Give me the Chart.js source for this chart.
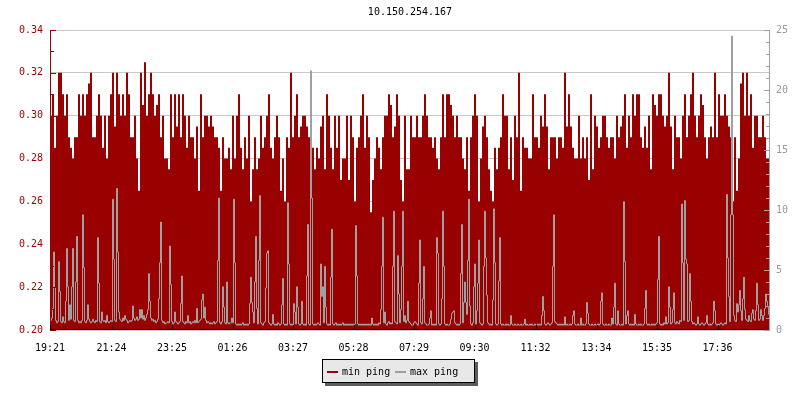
<!DOCTYPE html>
<html>
<head>
<meta charset="utf-8">
<title>10.150.254.167</title>
<script src="https://cdn.jsdelivr.net/npm/chart.js@4.4.1/dist/chart.umd.min.js"></script>
<style>
    body { margin: 0; background: #fff; }
    #wrap { position: relative; width: 800px; height: 400px; }
    #legend {
        position: absolute; left: 322px; top: 359px; width: 151px; height: 22px;
        background: #e8e8e8; border: 1px solid #000; box-shadow: 3px 3px 0 #5c5c5c;
        font: 10px "DejaVu Sans Mono", monospace; color: #000;
    }
    #legend .mark { position: absolute; top: 11px; width: 11px; height: 2px; }
    #legend .txt { position: absolute; top: 0; line-height: 24px; white-space: nowrap; }
</style>
</head>
<body>
<div id="wrap">
    <canvas id="pingChart" width="800" height="400"></canvas>
    <div id="legend">
        <span class="mark" style="left:4px;background:#990000"></span><span class="txt" style="left:19px">min ping</span>
        <span class="mark" style="left:72px;background:#a0a0a0"></span><span class="txt" style="left:87px">max ping</span>
    </div>
</div>
<script>
const chartTitle = "10.150.254.167";

// x axis: minutes since 19:21
const tickLabels = ["19:21", "21:24", "23:25", "01:26", "03:27", "05:28", "07:29", "09:30", "11:32", "13:34", "15:35", "17:36"];
const tickMinutes = [0, 123, 244, 365, 486, 607, 728, 849, 971, 1093, 1214, 1335];

// left axis ticks (ms)
const leftTicks = [0.20, 0.22, 0.24, 0.26, 0.28, 0.30, 0.32, 0.34];
const rightTicks = [0, 5, 10, 15, 20, 25];

// min ping, in 1/100 ms, one sample every 4 minutes
const minStep = 4;
const minPing = [
    30,31,28.5,30,32,32,31,30,31,29, 28.5,28,29,29,31,30,31,30,31,31.5,
    32,29,29,30,31,30,28.5,30,28,30, 31,32,29.5,32,31,30,31,30,32,31,
    29,29,30,28,26.5,32,30.5,32.5,30,31, 32,31,30,30.5,31,29,30,28,28,27.5,
    31,29,31,29.5,31,29,31,30,28.5,30, 29,29,28,29.5,26.5,31,29,30,30,29.5,
    30,29.5,29,29,28.5,26.5,29,28,28,28.5, 27.5,30,28,30,31,28.5,27.5,29,28,30,
    26,27.5,29,27.5,28,30,28.5,29,30,31, 28.5,28,29,30,29,26.5,28,26,29,28.5,
    32,29,30,31,29,29.5,30,30,29.5,29, 28.5,28.5,27.5,28.5,28,29.5,30,27.5,31,30,
    28.5,27.5,30,28.5,30,27,28,28,30,27, 30,29,26,28.5,29,30,31,28.5,30,29,
    25.5,27,28,29,28.5,27.5,29,30,30,31, 30.5,29,29.5,31,30,27,26,30,27.5,27.5,
    30,29,29,30,29,29,30,31,30,29, 29,28.5,29,28,27.5,29,31,29,31,31,
    30.5,30,29,30,29,29,28,27.5,29,26.5, 29,30,31,30,26,28,29.5,30,29,27.5,
    26.5,26,28.5,27.5,28.5,29,31,30,30,27.5, 29,27,30,29,32,26.5,29,28.5,28.5,28,
    28,31,29,29,28.5,30,29.5,31,29.5,27.5, 29,29,29,28,29,29,28.5,32,29.5,31,
    29.5,28.5,28,28,30,28,29,28,29,27, 31,27.5,30,29.5,28.5,29,30,30,29,28.5,
    29,29,28,30,29,29.5,30,31,28.5,30, 29,31,30,31,31,29,28.5,29.5,28.5,30,
    27.5,31,30.5,30,31,31,30,29.5,30,32, 29.5,27.5,30,29,29,28,30,31,29,30,
    31,32,30,29,30,31,30.5,29,28,29, 29.5,29,32,29,31,30,30,31,30,29.5,
    29,26,29,26.5,28,31.5,32,30,32,30, 31,28.5,30,30,29,29,30,29,28,28
];

// max ping, in ms, one sample every 2 minutes
const maxStep = 2;
const maxPing = [
    0.8,1.0,1.8,6.5,3.5,0.8,0.6,0.7,5.7,3.2, 0.7,0.6,1.1,0.7,0.6,2.4,6.8,3.6,0.8,2.1,
    0.9,3.6,6.8,0.8,0.7,4.0,7.8,0.8,0.6,0.7, 0.6,0.8,9.6,5.2,0.7,0.6,0.8,2.1,0.9,0.7,
    0.6,0.7,0.9,0.7,0.6,0.8,0.7,7.7,3.9,0.7, 0.6,1.5,0.8,0.7,0.8,0.6,1.2,0.7,0.6,0.7,
    0.8,0.7,10.9,5.9,0.8,0.7,11.8,6.5,1.5,0.9, 0.8,0.7,1.0,0.8,1.2,0.9,0.8,0.6,0.7,0.8,
    0.7,0.8,2.0,1.0,0.8,0.9,1.1,0.8,0.9,1.7, 1.0,1.7,0.9,1.2,0.8,1.0,1.3,1.7,4.7,2.4,
    1.0,0.8,0.9,0.7,0.8,0.6,0.7,0.9,2.6,5.6, 9.0,0.8,0.6,0.7,0.5,0.6,0.6,0.7,0.6,7.0,
    3.8,0.7,0.5,0.6,1.5,0.7,0.6,0.5,0.6,0.7, 2.2,4.5,0.7,0.6,0.5,0.7,0.6,1.2,0.6,0.7,
    0.5,0.6,0.7,0.6,0.8,0.6,1.8,0.6,0.7,0.8, 0.9,2.5,3.0,1.0,1.9,0.8,0.6,0.7,0.6,0.5,
    0.6,0.5,0.6,0.7,0.5,0.6,0.7,5.8,11.0,0.6, 0.5,0.7,3.6,1.9,0.6,0.5,4.0,0.6,0.5,0.6,
    0.6,1.0,0.6,10.9,5.6,0.5,0.4,0.5,0.4,0.5, 0.4,0.5,0.6,0.4,0.5,0.4,0.5,0.4,0.5,2.2,
    4.4,2.3,1.5,0.6,4.0,7.8,1.8,0.5,5.8,11.2, 0.6,0.5,0.4,0.6,0.7,3.5,6.4,6.6,0.6,0.5,
    0.4,0.5,1.3,0.5,0.4,0.5,0.4,0.6,0.5,0.4, 0.5,2.1,4.3,0.5,0.4,0.5,0.4,10.6,5.5,0.5,
    0.4,0.5,0.4,2.2,1.5,0.5,3.6,1.9,0.5,0.4, 0.5,2.4,0.5,0.4,0.5,0.4,4.5,8.8,0.5,0.4,
    21.6,11.0,0.5,0.4,0.5,0.4,0.5,0.6,0.5,0.4, 5.5,2.8,3.6,0.6,5.3,1.9,0.5,0.4,0.5,0.4,
    4.4,8.4,0.5,0.4,0.5,0.6,0.4,0.5,0.4,0.5, 0.4,0.5,0.6,0.4,0.5,0.4,0.5,0.4,0.5,0.4,
    0.5,0.4,0.5,0.4,0.5,8.7,4.5,0.5,0.4,0.5, 0.4,0.5,0.4,0.5,0.4,0.5,0.4,0.5,0.4,0.5,
    0.4,1.0,0.5,0.4,0.5,0.4,0.5,0.4,0.6,0.5, 1.7,5.3,9.4,0.6,1.5,0.5,0.4,0.6,0.7,0.5,
    0.6,0.5,5.3,9.9,0.7,0.6,0.5,6.2,3.0,0.6, 1.7,5.3,9.9,0.7,1.2,0.6,0.8,2.4,0.7,0.6,
    0.5,0.4,0.4,0.6,0.7,0.6,0.5,0.4,3.9,7.5, 0.6,0.5,2.6,5.3,0.6,0.5,0.4,0.4,0.5,1.0,
    1.6,0.4,0.5,0.4,0.5,0.4,7.7,6.4,0.5,0.4, 0.5,2.6,9.9,5.3,0.5,0.4,0.5,0.4,0.4,0.5,
    0.9,1.4,1.5,1.6,0.6,0.5,0.4,0.5,0.4,0.5, 4.7,8.8,0.6,2.3,4.0,2.3,1.3,5.8,10.9,2.0,
    0.5,0.4,0.6,3.6,5.5,0.5,1.6,3.9,7.5,0.6, 0.5,0.4,0.5,5.3,9.9,6.0,2.9,0.6,0.5,0.4,
    0.5,0.4,2.5,10.1,5.6,0.5,0.4,0.5,4.1,7.7, 0.5,0.4,0.5,0.4,0.4,0.5,0.4,0.5,0.4,0.4,
    1.2,0.5,0.4,0.4,0.5,0.4,0.4,0.5,0.4,0.4, 0.5,0.4,0.4,0.5,0.9,0.4,0.5,0.4,0.4,0.5,
    0.4,0.5,0.4,0.4,0.5,0.4,0.4,0.5,0.4,0.5, 0.4,1.2,2.8,1.6,0.5,0.4,0.5,0.6,0.5,0.4,
    0.5,0.6,5.3,9.6,0.7,0.6,0.5,0.4,0.5,0.4, 0.5,0.4,0.5,0.4,1.1,0.4,0.5,0.4,0.4,0.5,
    0.4,0.5,1.2,1.6,0.5,0.4,0.4,0.5,0.4,0.4, 1.0,0.4,0.5,0.4,0.4,0.5,2.3,1.4,0.5,0.4,
    0.4,0.5,0.4,0.4,0.5,0.4,0.4,0.5,0.4,0.5, 2.4,3.1,0.5,0.4,0.4,0.5,0.4,0.4,0.5,0.4,
    0.4,1.0,0.5,1.9,3.9,0.5,0.4,1.6,0.5,0.4, 0.4,0.5,0.4,10.7,5.7,0.5,1.2,1.6,0.5,0.4,
    0.5,0.4,0.5,0.4,1.3,0.5,0.4,0.4,0.5,0.4, 0.5,0.4,0.4,0.5,1.8,3.3,0.5,0.4,0.5,0.4,
    0.4,0.5,0.4,0.5,0.4,0.5,0.6,4.2,7.8,0.5, 0.4,0.5,0.4,0.6,0.5,1.1,0.5,0.6,3.6,1.9,
    0.5,0.6,1.7,3.1,0.6,0.5,0.7,0.6,0.5,0.8, 0.7,10.5,5.6,0.8,10.8,5.9,5.5,0.7,0.8,4.7,
    2.4,0.7,0.5,0.6,0.5,0.4,0.5,1.1,0.5,0.4, 0.5,0.6,0.5,0.4,0.5,0.6,1.2,0.5,0.4,0.5,
    0.4,0.5,0.6,2.4,1.6,0.5,0.4,0.5,0.4,0.5, 0.6,0.5,0.4,0.5,0.6,0.5,11.3,6.0,2.8,0.7,
    9.6,24.5,9.6,1.2,0.8,0.7,2.2,1.5,2.1,3.3, 1.6,0.8,2.6,4.4,1.7,0.9,0.8,0.7,1.2,0.8,
    0.7,1.4,1.7,0.9,0.8,1.6,3.9,2.1,0.8,0.9, 1.7,1.2,0.8,1.2,1.8,3.0,2.4,1.9,1.3,0.9
];

const minColor = "#990000";
const maxColor = "#a0a0a0";
const monoFont = { family: "'DejaVu Sans Mono', monospace", size: 10, weight: "normal" };

// step series: each sample holds until the next one
// (shift puts the max line's verticals on pixel centres so they stay crisp)
function stepPoints(values, step, factor, shift) {
    const pts = values.map((v, i) => ({ x: i * step + shift, y: v * factor }));
    pts.push({ x: values.length * step + shift, y: values[values.length - 1] * factor });
    return pts;
}

// rrdtool-like axis lines and inward tick marks
const axisMarks = {
    id: "axisMarks",
    afterDatasetsDraw(chart) {
        const { ctx, chartArea: a, scales } = chart;
        ctx.save();
        ctx.lineWidth = 1;

        ctx.strokeStyle = minColor;
        ctx.beginPath();
        for (let v = 20; v <= 34; v++) {
            const y = Math.round(scales.y.getPixelForValue(v / 100)) + 0.5;
            ctx.moveTo(a.left, y);
            ctx.lineTo(a.left + (v % 2 === 0 ? 6 : 4), y);
        }
        ctx.moveTo(a.left + 0.5, a.top);
        ctx.lineTo(a.left + 0.5, a.bottom);
        ctx.stroke();

        ctx.strokeStyle = maxColor;
        ctx.beginPath();
        for (let v = 0; v <= 25; v++) {
            const y = Math.round(scales.y1.getPixelForValue(v)) + 0.5;
            ctx.moveTo(a.right, y);
            ctx.lineTo(a.right - (v % 5 === 0 ? 6 : 4), y);
        }
        ctx.moveTo(a.right - 0.5, a.top);
        ctx.lineTo(a.right - 0.5, a.bottom + 1);
        ctx.stroke();

        ctx.strokeStyle = "#000";
        ctx.beginPath();
        tickMinutes.forEach(m => {
            const x = Math.round(scales.x.getPixelForValue(m)) + 0.5;
            ctx.moveTo(x, a.bottom);
            ctx.lineTo(x, a.bottom - 5);
        });
        ctx.moveTo(a.left, a.bottom - 0.5);
        ctx.lineTo(a.right - 6, a.bottom - 0.5);
        ctx.stroke();
        ctx.restore();
    }
};

const ctx = document.getElementById("pingChart").getContext("2d");

const pingChart = new Chart(ctx, {
    type: "line",
    data: {
        datasets: [
            {
                label: "max ping",
                data: stepPoints(maxPing, maxStep, 1, 1),
                yAxisID: "y1",
                stepped: true,
                borderColor: maxColor,
                borderWidth: 1,
                pointRadius: 0,
                fill: false,
                order: 0
            },
            {
                label: "min ping",
                data: stepPoints(minPing, minStep, 0.01, 0),
                yAxisID: "y",
                stepped: true,
                borderColor: "rgba(0,0,0,0)",
                borderWidth: 0,
                backgroundColor: minColor,
                pointRadius: 0,
                fill: "start",
                order: 1
            }
        ]
    },
    options: {
        responsive: false,
        animation: false,
        events: [],
        layout: { padding: 0 },
        plugins: {
            legend: { display: false },
            tooltip: { enabled: false },
            title: {
                display: true,
                text: chartTitle,
                color: "#000",
                font: monoFont,
                fullSize: false,
                padding: { top: 6, bottom: 12 }
            }
        },
        scales: {
            x: {
                type: "linear",
                min: 0,
                max: 1440,
                grid: { display: false },
                border: { display: false },
                afterBuildTicks: s => { s.ticks = tickMinutes.map(v => ({ value: v })); },
                afterFit: s => { s.height = 70; },
                ticks: {
                    color: "#000",
                    font: monoFont,
                    padding: 4,
                    maxRotation: 0,
                    autoSkip: false,
                    callback: v => tickLabels[tickMinutes.indexOf(v)]
                }
            },
            y: {
                position: "left",
                min: 0.20,
                max: 0.34,
                grid: { color: "#c8c8c8", drawTicks: false },
                border: { display: false },
                afterBuildTicks: s => { s.ticks = leftTicks.map(v => ({ value: v })); },
                afterFit: s => { s.width = 50; },
                ticks: {
                    color: minColor,
                    font: monoFont,
                    padding: 7,
                    callback: v => v.toFixed(2)
                }
            },
            y1: {
                position: "right",
                min: 0,
                max: 25,
                grid: { drawOnChartArea: false, drawTicks: false },
                border: { display: false },
                afterBuildTicks: s => { s.ticks = rightTicks.map(v => ({ value: v })); },
                afterFit: s => { s.width = 30; },
                ticks: {
                    color: "#999",
                    font: monoFont,
                    padding: 6
                }
            }
        }
    },
    plugins: [axisMarks]
});
</script>
</body>
</html>
